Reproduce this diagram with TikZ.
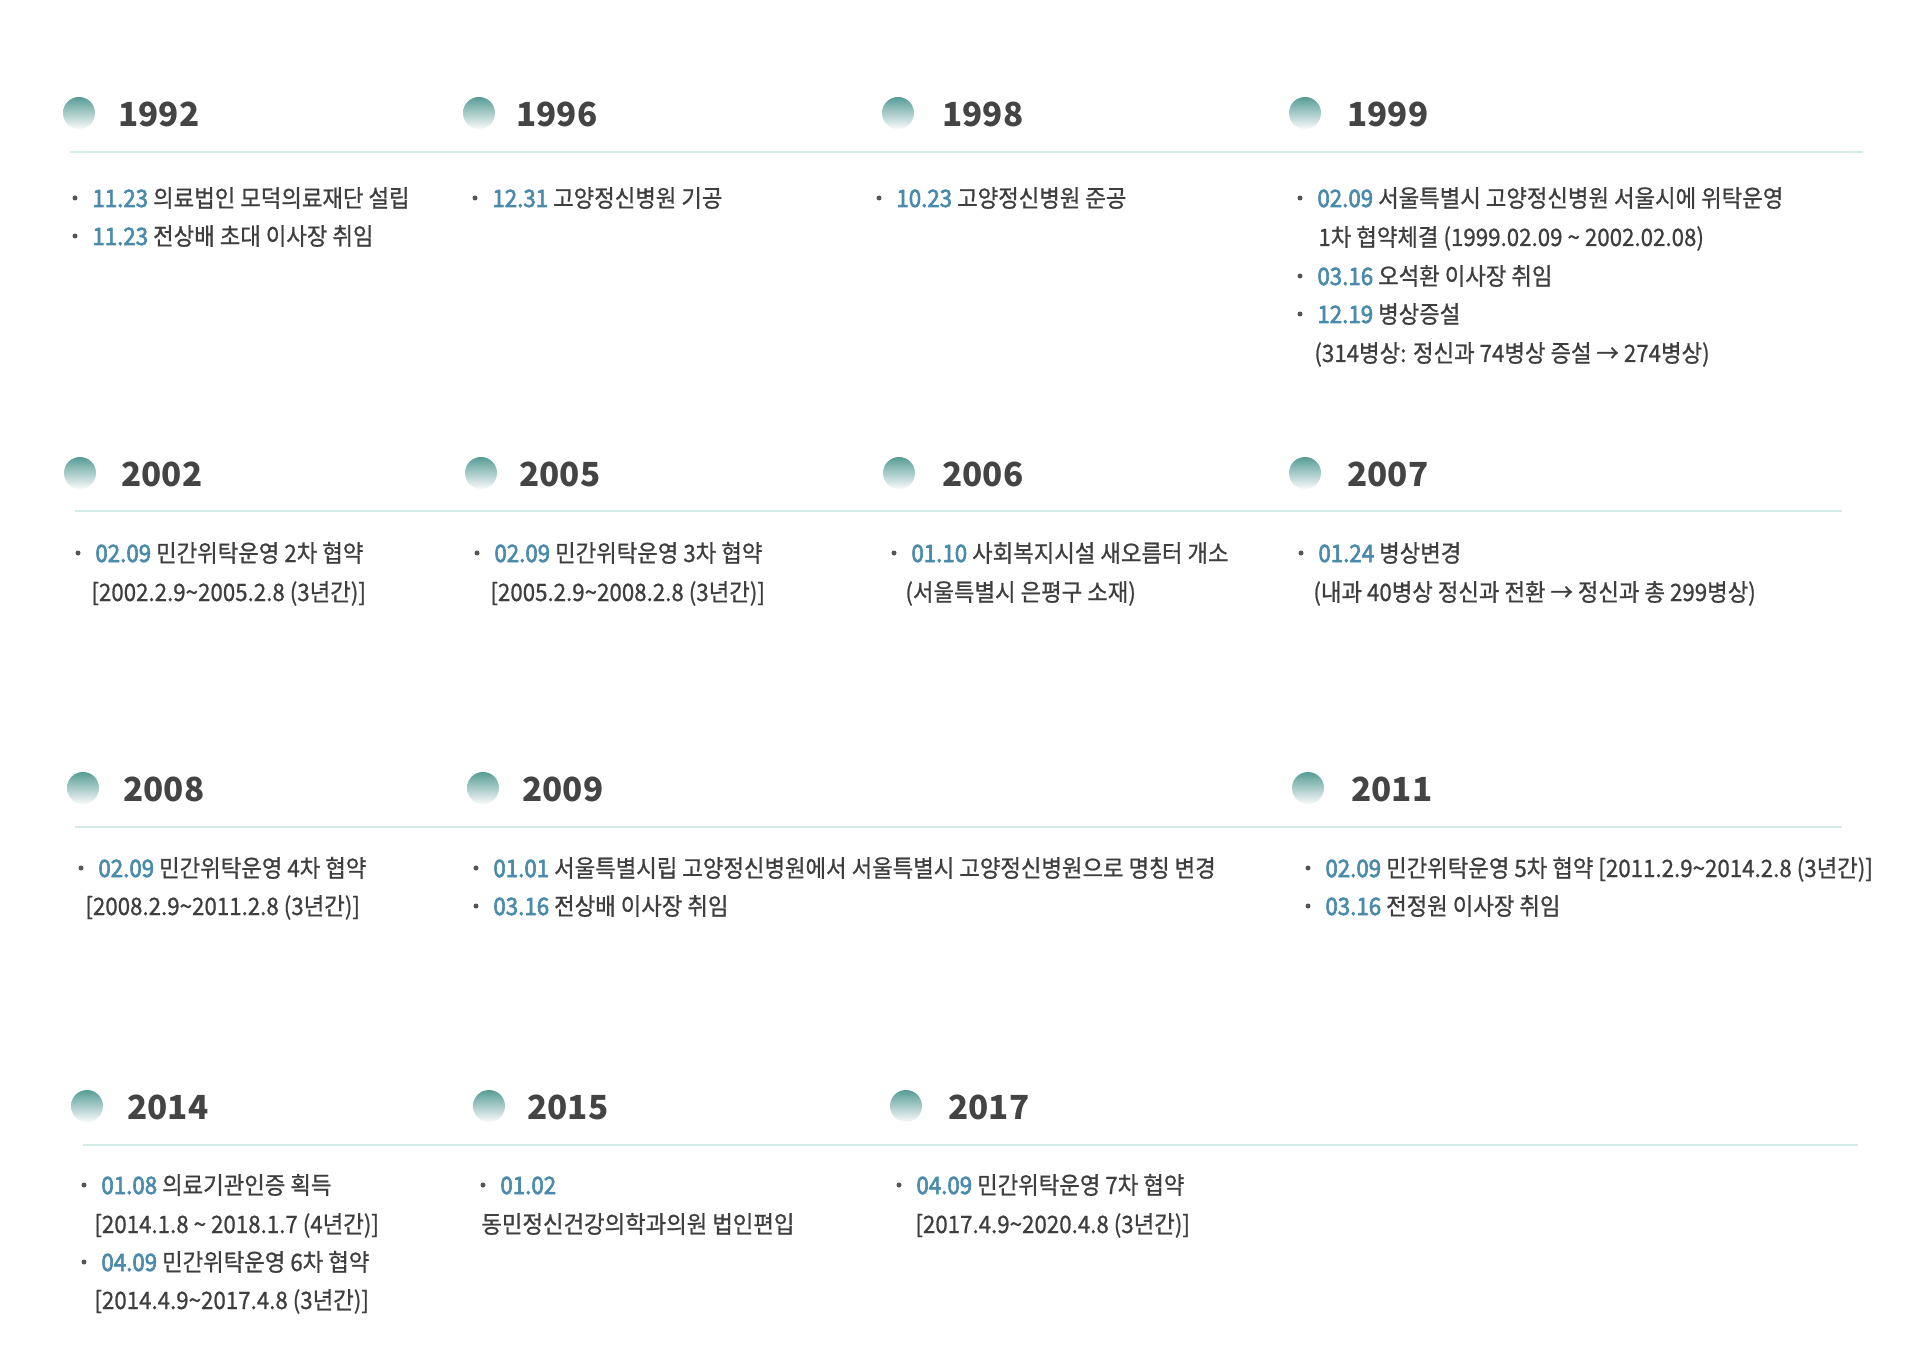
\documentclass[tikz,border=0pt]{standalone}
\usepackage{fontspec}
\setmainfont{Noto Sans CJK KR}
\newfontfamily\krfont[FakeStretch=0.93,FakeBold=0.8]{Noto Sans CJK KR}
\newfontfamily\datefont[FakeStretch=0.93,FakeBold=2.5]{Noto Sans CJK KR}
\newfontfamily\yearfont{Noto Sans CJK KR}
\usepackage{tikz}

\definecolor{yeargray}{HTML}{444444}
\definecolor{textgray}{HTML}{3E3E3E}
\definecolor{datecol}{HTML}{4A8BAC}
\definecolor{dotcol}{HTML}{579C95}
\definecolor{linecol}{HTML}{D5EBE8}
\definecolor{bulletcol}{HTML}{555555}

\newcommand{\dt}[1]{{\datefont\color{datecol}#1}}
\newcommand{\tld}{\textasciitilde}

\tikzstyle{yeardot} = [circle, minimum size=16pt, inner sep=0pt, top color=dotcol, bottom color=white!96!dotcol]
\tikzstyle{yearlabel} = [anchor=west, inner sep=0pt, text height=12.4pt, text depth=0pt, text=yeargray, font=\yearfont\bfseries\fontsize{16.6pt}{18pt}\selectfont]
\tikzstyle{entry} = [anchor=west, inner sep=0pt, text height=10.2pt, text depth=1.2pt, text=textgray, font=\krfont\fontsize{12pt}{14pt}\selectfont]
\tikzstyle{rowline} = [linecol, line width=1pt]

\begin{document}
\begin{tikzpicture}[x=0.5pt, y=-0.5pt]
	\path[fill=white, use as bounding box] (0,0) rectangle (1920,1358);

	% year heads
	\foreach \dx/\dy/\tx/\yr in {79/113/118/1992, 479/113/516/1996, 898/113/942/1998, 1305/113/1347/1999,
			80/473/121/2002, 481/473/519/2005, 899/473/942/2006, 1305/473/1347/2007,
			83/788/123/2008, 483/788/522/2009, 1308/788/1351/2011,
			87/1106/127/2014, 489/1106/527/2015, 906/1106/948/2017} {
			\node[yeardot] (d\yr) at (\dx,\dy) {};
			\node[yearlabel] (y\yr) at (\tx,\dy+1) {\yr};
		}

	% row lines
	\draw[rowline] (70,152) -- (1863,152);
	\draw[rowline] (75,511) -- (1842,511);
	\draw[rowline] (75,827) -- (1842,827);
	\draw[rowline] (83,1145) -- (1858,1145);

	% 1992 - 1999
	\node[entry] (e92a) at (92,198) {\dt{11.23} 의료법인 모덕의료재단 설립};
	\node[entry] (e92b) at (92,236) {\dt{11.23} 전상배 초대 이사장 취임};
	\node[entry] (e96a) at (492,198) {\dt{12.31} 고양정신병원 기공};
	\node[entry] (e98a) at (896,198) {\dt{10.23} 고양정신병원 준공};
	\node[entry] (e99a) at (1317,198) {\dt{02.09} 서울특별시 고양정신병원 서울시에 위탁운영};
	\node[entry] (e99b) at (1318,237) {1차 협약체결 (1999.02.09 \tld{} 2002.02.08)};
	\node[entry] (e99c) at (1317,276) {\dt{03.16} 오석환 이사장 취임};
	\node[entry] (e99d) at (1317,314) {\dt{12.19} 병상증설};
	\node[entry] (e99e) at (1314,353) {(314병상: 정신과 74병상 증설 → 274병상)};

	% 2002 - 2007
	\node[entry] (e02a) at (95,553) {\dt{02.09} 민간위탁운영 2차 협약};
	\node[entry] (e02b) at (91,592) {[2002.2.9\tld2005.2.8 (3년간)]};
	\node[entry] (e05a) at (494,553) {\dt{02.09} 민간위탁운영 3차 협약};
	\node[entry] (e05b) at (490,592) {[2005.2.9\tld2008.2.8 (3년간)]};
	\node[entry] (e06a) at (911,553) {\dt{01.10} 사회복지시설 새오름터 개소};
	\node[entry] (e06b) at (905,592) {(서울특별시 은평구 소재)};
	\node[entry] (e07a) at (1318,553) {\dt{01.24} 병상변경};
	\node[entry] (e07b) at (1313,592) {(내과 40병상 정신과 전환 → 정신과 총 299병상)};

	% 2008 - 2011
	\node[entry] (e08a) at (98,868) {\dt{02.09} 민간위탁운영 4차 협약};
	\node[entry] (e08b) at (85,906) {[2008.2.9\tld2011.2.8 (3년간)]};
	\node[entry] (e09a) at (493,868) {\dt{01.01} 서울특별시립 고양정신병원에서 서울특별시 고양정신병원으로 명칭 변경};
	\node[entry] (e09b) at (493,906) {\dt{03.16} 전상배 이사장 취임};
	\node[entry] (e11a) at (1325,868) {\dt{02.09} 민간위탁운영 5차 협약 [2011.2.9\tld2014.2.8 (3년간)]};
	\node[entry] (e11b) at (1325,906) {\dt{03.16} 전정원 이사장 취임};

	% 2014 - 2017
	\node[entry] (e14a) at (101,1185) {\dt{01.08} 의료기관인증 획득};
	\node[entry] (e14b) at (94,1224) {[2014.1.8 \tld{} 2018.1.7 (4년간)]};
	\node[entry] (e14c) at (101,1262) {\dt{04.09} 민간위탁운영 6차 협약};
	\node[entry] (e14d) at (94,1300) {[2014.4.9\tld2017.4.8 (3년간)]};
	\node[entry] (e15a) at (500,1185) {\dt{01.02}};
	\node[entry] (e15b) at (481,1224) {동민정신건강의학과의원 법인편입};
	\node[entry] (e17a) at (916,1185) {\dt{04.09} 민간위탁운영 7차 협약};
	\node[entry] (e17b) at (915,1224) {[2017.4.9\tld2020.4.8 (3년간)]};

	% bullets
	\foreach \n in {e92a,e92b,e96a,e98a,e99a,e99c,e99d,e02a,e05a,e06a,e07a,
			e08a,e09a,e09b,e11a,e11b,e14a,e14c,e15a,e17a} {
			\fill[bulletcol] ([xshift=-8.5pt]\n.west) circle (1.25pt);
		}

\end{tikzpicture}
\end{document}
